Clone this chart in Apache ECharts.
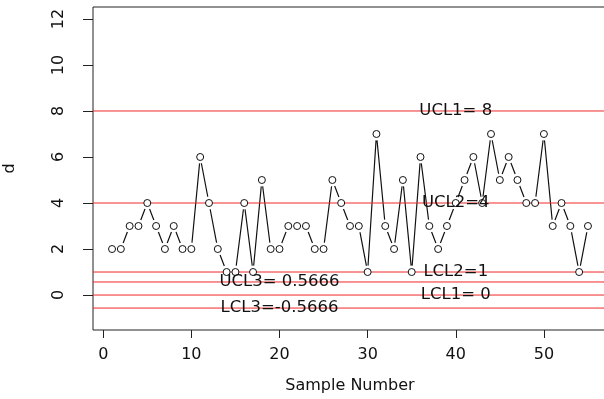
<!DOCTYPE html>
<html>
<head>
<meta charset="utf-8">
<script src="https://cdn.jsdelivr.net/npm/echarts@6/dist/echarts.min.js"></script>
<style>html,body{margin:0;padding:0;background:#fff}#c{width:604px;height:399px}</style>
</head>
<body>
<div id="c"></div>
<script>
var dValues = [2,2,3,3,4,3,2,3,2,2, 6,4,2,1,1,4,1,5,2,2, 3,3,3,2,2,5,4,3,3,1, 7,3,2,5,1,6,3,2,3,4, 5,6,4,7,5,6,5,4,4,7, 3,4,3,1,3];
var limitValues = [8, 4, 1, 0.5666, 0, -0.5666];
var limitLabels = ['UCL1= 8', 'UCL2=4', 'LCL2=1', 'UCL3= 0.5666', 'LCL1= 0', 'LCL3=-0.5666'];
var limitLabelX = [40, 40, 40, 20, 40, 20];
var xTicks = [0, 10, 20, 30, 40, 50];
var yTicks = [0, 2, 4, 6, 8, 10, 12];

var X_MIN = -1.16, X_MAX = 57.16;
var pts = dValues.map(function (v, i) { return [i + 1, v]; });
var labelPts = limitValues.map(function (v, i) { return [limitLabelX[i], v, limitLabels[i]]; });
var FONT = 'DejaVu Sans';
var TXT = '#111';

var limitSeries = limitValues.map(function (v) {
  return { type: 'line', data: [[X_MIN, v], [X_MAX, v]], symbol: 'none', z: 4, silent: true,
    lineStyle: { color: '#f02828', width: 1, opacity: 1 } };
});

var chart = echarts.init(document.getElementById('c'));
chart.setOption({
  animation: false,
  backgroundColor: '#fff',
  grid: { left: 93, top: 7, right: -3, bottom: 69, show: true, borderColor: '#222', borderWidth: 1,
    backgroundColor: 'transparent', containLabel: false, outerBoundsMode: 'none' },
  xAxis: {
    type: 'value', min: X_MIN, max: X_MAX,
    name: 'Sample Number', nameLocation: 'middle', nameGap: 48,
    nameTextStyle: { fontFamily: FONT, fontSize: 16, color: TXT },
    axisLine: { show: false, onZero: false },
    axisTick: { show: true, length: 8, customValues: xTicks, lineStyle: { color: '#222' } },
    axisLabel: { customValues: xTicks, margin: 17, fontFamily: FONT, fontSize: 16, color: TXT },
    splitLine: { show: false },
    splitArea: { show: false }
  },
  yAxis: {
    type: 'value', min: -1.52, max: 12.52,
    name: 'd', nameLocation: 'middle', nameGap: 75, nameRotate: 90,
    nameTextStyle: { fontFamily: FONT, fontSize: 16, color: TXT },
    axisLine: { show: false, onZero: false },
    axisTick: { show: true, length: 10, customValues: yTicks, lineStyle: { color: '#222' } },
    axisLabel: { customValues: yTicks, rotate: 90, margin: 26, fontFamily: FONT, fontSize: 16, color: TXT },
    splitLine: { show: false },
    splitArea: { show: false }
  },
  series: [
    { type: 'line', data: pts, symbol: 'none', z: 2, silent: true,
      lineStyle: { color: '#111', width: 1.2 } },
    { type: 'scatter', data: pts, symbol: 'circle', symbolSize: 13, z: 3, silent: true,
      itemStyle: { color: '#fff', opacity: 1 } }
  ].concat(limitSeries).concat([
    { type: 'scatter', data: pts, symbol: 'circle', symbolSize: 7, z: 5, silent: true,
      itemStyle: { color: '#fff', borderColor: '#111', borderWidth: 1, opacity: 1 } },
    { type: 'scatter', data: labelPts, symbolSize: 0, z: 7, silent: true,
      itemStyle: { opacity: 1 },
      label: { show: true, position: 'inside', formatter: function (p) { return p.value[2]; },
        fontFamily: FONT, fontSize: 16.5, color: TXT, opacity: 1, textBorderWidth: 0 } }
  ])
});
</script>
</body>
</html>
